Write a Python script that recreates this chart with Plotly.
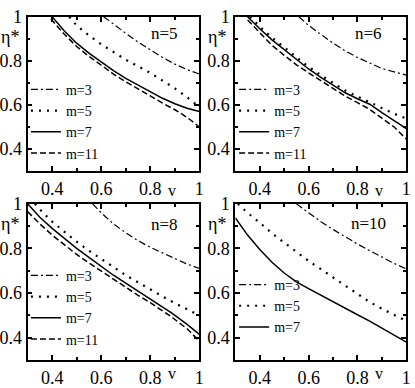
import plotly.graph_objects as go
from plotly.subplots import make_subplots

# ---- data (v -> eta*) ----
# n = 5
v5_m3 = [0.61, 0.65, 0.7, 0.75, 0.8, 0.85, 0.9, 0.95, 1.0]
e5_m3 = [1.0, 0.965, 0.925, 0.885, 0.85, 0.815, 0.785, 0.76, 0.74]
v5_m5 = [0.47, 0.5, 0.55, 0.6, 0.65, 0.7, 0.75, 0.8, 0.85, 0.9, 0.95, 1.0]
e5_m5 = [1.0, 0.96, 0.915, 0.875, 0.84, 0.805, 0.775, 0.745, 0.71, 0.675, 0.635, 0.59]
v5_m7 = [0.4, 0.45, 0.5, 0.55, 0.6, 0.65, 0.7, 0.75, 0.8, 0.85, 0.9, 0.95, 1.0]
e5_m7 = [1.0, 0.935, 0.88, 0.835, 0.795, 0.755, 0.72, 0.69, 0.66, 0.63, 0.605, 0.585, 0.57]
v5_m11 = [0.395, 0.45, 0.5, 0.55, 0.6, 0.65, 0.7, 0.75, 0.8, 0.85, 0.9, 0.92, 0.96, 1.0]
e5_m11 = [0.99, 0.92, 0.865, 0.82, 0.78, 0.74, 0.705, 0.672, 0.64, 0.608, 0.578, 0.565, 0.535, 0.5]

# n = 6
v6_m3 = [0.56, 0.6, 0.65, 0.7, 0.75, 0.8, 0.85, 0.9, 0.95, 1.0]
e6_m3 = [1.0, 0.96, 0.92, 0.88, 0.845, 0.815, 0.79, 0.765, 0.75, 0.735]
v6_m5 = [0.36, 0.4, 0.45, 0.5, 0.55, 0.6, 0.65, 0.7, 0.75, 0.8, 0.85, 0.9, 0.95, 1.0]
e6_m5 = [1.0, 0.955, 0.905, 0.86, 0.815, 0.773, 0.735, 0.698, 0.665, 0.638, 0.612, 0.585, 0.56, 0.538]
v6_m7 = [0.35, 0.4, 0.45, 0.5, 0.55, 0.6, 0.65, 0.7, 0.75, 0.8, 0.85, 0.9, 0.95, 1.0]
e6_m7 = [1.0, 0.945, 0.895, 0.85, 0.805, 0.763, 0.725, 0.688, 0.655, 0.628, 0.603, 0.565, 0.53, 0.492]
v6_m11 = [0.35, 0.4, 0.45, 0.5, 0.55, 0.6, 0.65, 0.7, 0.75, 0.8, 0.85, 0.9, 0.95, 1.0]
e6_m11 = [0.985, 0.925, 0.87, 0.825, 0.782, 0.745, 0.71, 0.672, 0.64, 0.61, 0.58, 0.54, 0.5, 0.445]

# n = 8
v8_m3 = [0.565, 0.6, 0.65, 0.7, 0.75, 0.8, 0.85, 0.9, 0.95, 1.0]
e8_m3 = [1.0, 0.96, 0.91, 0.87, 0.835, 0.805, 0.78, 0.755, 0.73, 0.71]
v8_m5 = [0.33, 0.35, 0.4, 0.45, 0.5, 0.55, 0.6, 0.65, 0.7, 0.75, 0.8, 0.85, 0.9, 0.95, 1.0]
e8_m5 = [1.0, 0.975, 0.92, 0.873, 0.83, 0.79, 0.752, 0.715, 0.68, 0.648, 0.615, 0.585, 0.555, 0.528, 0.5]
v8_m7 = [0.3, 0.35, 0.4, 0.45, 0.5, 0.55, 0.6, 0.65, 0.7, 0.75, 0.8, 0.85, 0.885, 0.95, 1.0]
e8_m7 = [1.0, 0.94, 0.89, 0.845, 0.8, 0.76, 0.72, 0.68, 0.645, 0.61, 0.575, 0.54, 0.512, 0.46, 0.415]
v8_m11 = [0.3, 0.35, 0.4, 0.45, 0.5, 0.55, 0.6, 0.65, 0.7, 0.75, 0.8, 0.85, 0.885, 0.95, 1.0]
e8_m11 = [0.965, 0.91, 0.86, 0.815, 0.773, 0.735, 0.698, 0.66, 0.625, 0.59, 0.557, 0.522, 0.495, 0.44, 0.385]

# n = 10
v10_m3 = [0.55, 0.6, 0.65, 0.7, 0.75, 0.8, 0.85, 0.9, 0.95, 1.0]
e10_m3 = [1.0, 0.96, 0.92, 0.885, 0.852, 0.82, 0.79, 0.76, 0.733, 0.708]
v10_m5 = [0.31, 0.35, 0.4, 0.45, 0.5, 0.55, 0.6, 0.65, 0.7, 0.75, 0.8, 0.85, 0.9, 0.95, 1.0]
e10_m5 = [1.0, 0.96, 0.915, 0.868, 0.826, 0.783, 0.744, 0.707, 0.67, 0.633, 0.596, 0.56, 0.53, 0.502, 0.475]
v10_m7 = [0.3, 0.35, 0.4, 0.45, 0.5, 0.55, 0.6, 0.65, 0.7, 0.75, 0.8, 0.85, 0.9, 0.95, 1.0]
e10_m7 = [0.937, 0.86, 0.795, 0.738, 0.69, 0.65, 0.62, 0.59, 0.562, 0.532, 0.503, 0.474, 0.443, 0.412, 0.38]

panels = [
    ("n=5", [("m=3", v5_m3, e5_m3), ("m=5", v5_m5, e5_m5), ("m=7", v5_m7, e5_m7), ("m=11", v5_m11, e5_m11)]),
    ("n=6", [("m=3", v6_m3, e6_m3), ("m=5", v6_m5, e6_m5), ("m=7", v6_m7, e6_m7), ("m=11", v6_m11, e6_m11)]),
    ("n=8", [("m=3", v8_m3, e8_m3), ("m=5", v8_m5, e8_m5), ("m=7", v8_m7, e8_m7), ("m=11", v8_m11, e8_m11)]),
    ("n=10", [("m=3", v10_m3, e10_m3), ("m=5", v10_m5, e10_m5), ("m=7", v10_m7, e10_m7)]),
]

styles = {
    "m=3": dict(dash="7px,3px,2px,3px", width=1.2),
    "m=5": dict(dash="2px,6px", width=2.2),
    "m=7": dict(dash="solid", width=1.5),
    "m=11": dict(dash="6px,3px", width=1.5),
}

SERIF = "Liberation Serif"

fig = make_subplots(rows=2, cols=2)

xdom = [[0.065, 0.485], [0.573, 0.991]]
ydom = [[0.567, 0.982], [0.059, 0.479]]
legend_pos = [(0.061, 0.573), (0.57, 0.573), (0.061, 0.073), (0.57, 0.105)]
label_x = [0.89, 0.87, 0.89, 0.89]
label_y = [0.89, 0.89, 0.87, 0.875]
v_shift = [-9, -9, -3, -3]

for i, (title, curves) in enumerate(panels):
    row, col = i // 2 + 1, i % 2 + 1
    leg = "legend" if i == 0 else f"legend{i + 1}"
    for name, v, e in curves:
        fig.add_trace(go.Scatter(x=v, y=e, mode="lines", name=name, legend=leg,
                                 line=dict(color="black", **styles[name])),
                      row=row, col=col)
    suffix = "" if i == 0 else str(i + 1)
    fig.layout[f"xaxis{suffix}"].domain = xdom[col - 1]
    fig.layout[f"yaxis{suffix}"].domain = ydom[row - 1]
    lx, ly = legend_pos[i]
    fig.layout[leg] = dict(x=lx, y=ly, xanchor="left", yanchor="bottom",
                           bgcolor="rgba(0,0,0,0)", font=dict(family=SERIF, size=14, color="black"),
                           itemwidth=30, tracegroupgap=0)
    fig.add_annotation(text=title, xref=f"x{suffix} domain", yref=f"y{suffix} domain",
                       x=label_x[i], y=label_y[i], xanchor="right", yanchor="middle",
                       showarrow=False, font=dict(family=SERIF, size=17, color="black"))
    fig.add_annotation(text="η*", xref=f"x{suffix} domain", yref=f"y{suffix} domain",
                       x=0, y=0.87, xanchor="right", yanchor="middle", xshift=-7,
                       showarrow=False, font=dict(family=SERIF, size=18, color="black"))
    fig.add_annotation(text="v", xref=f"x{suffix} domain", yref=f"y{suffix} domain",
                       x=0.84, y=0, xanchor="center", yanchor="top", yshift=v_shift[i],
                       showarrow=False, font=dict(family=SERIF, size=16, color="black"))

axis_common = dict(showline=True, linecolor="black", linewidth=1.8, mirror="ticks",
                   ticks="inside", ticklen=5, tickwidth=1.5, tickcolor="black",
                   showgrid=False, zeroline=False,
                   tickfont=dict(family=SERIF, size=18, color="black"),
                   minor=dict(ticks="inside", ticklen=3, tickwidth=1.5, tickcolor="black", dtick=0.1))

fig.update_xaxes(range=[0.3, 1.0], tickvals=[0.4, 0.6, 0.8, 1.0],
                 ticktext=["0.4", "0.6", "0.8", "1"], **axis_common)
fig.update_yaxes(range=[0.3, 1.0], tickvals=[0.4, 0.6, 0.8, 1.0],
                 ticktext=["0.4", "0.6", "0.8", "1"], **axis_common)

fig.update_layout(width=415, height=388, margin=dict(l=0, r=0, t=0, b=0),
                  paper_bgcolor="white", plot_bgcolor="white", showlegend=True)

# the page's default 8px body margin would shift the figure, so drop it
fig.write_html("out.html", config={"displayModeBar": False},
               post_script="document.body.style.margin='0px';")
